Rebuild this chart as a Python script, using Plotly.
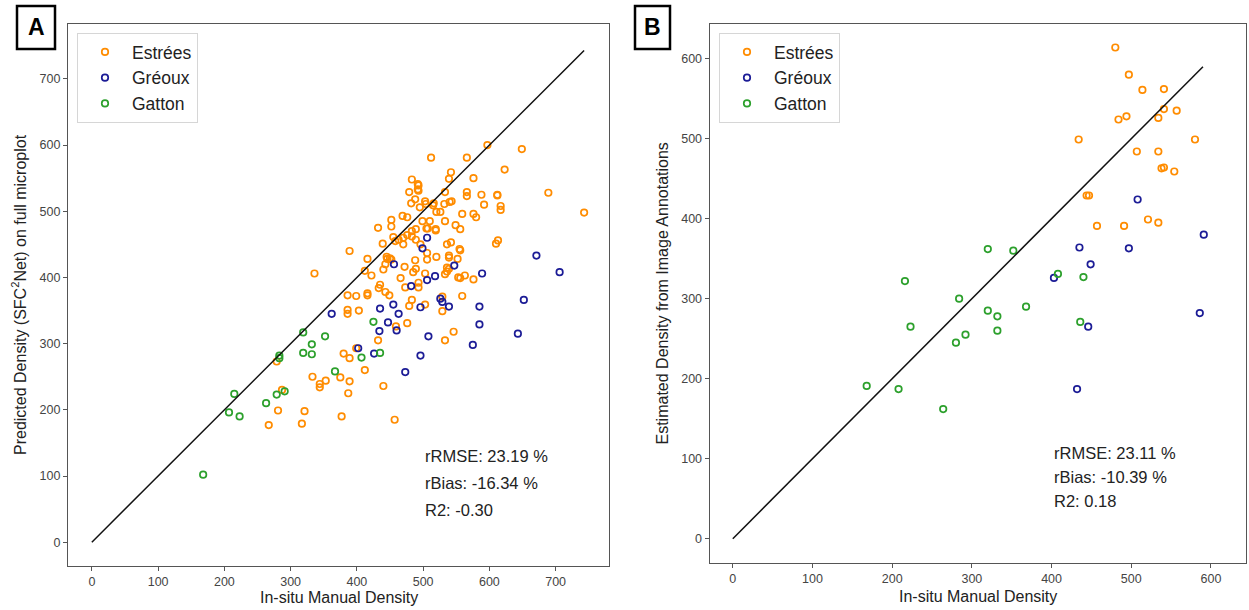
import plotly.graph_objects as go

# ---------------- Panel A data (In-situ manual density vs predicted) ----------------
a_estrees_x = [597, 649, 512, 566, 623, 542, 539, 483, 576, 493, 493, 479, 533, 566, 566, 689,
               588, 612, 612, 482, 488, 495, 504, 516, 532, 540, 543, 592, 617, 617, 520, 526,
               559, 576, 580, 743, 452, 469, 476, 499, 510, 533, 549, 556, 432, 452, 489, 507,
               519, 439, 455, 458, 463, 470, 476, 483, 483, 489, 496, 470, 536, 542, 556, 610,
               613, 389, 416, 446, 452, 488, 506, 506, 520, 539, 539, 552, 440, 443, 472, 485,
               489, 536, 536, 539, 412, 422, 336, 466, 503, 533, 553, 556, 563, 576, 435, 433,
               473, 493, 493, 443, 449, 416, 416, 399, 386, 559, 483, 479, 503, 529, 529, 386,
               386, 403, 459, 476, 432, 546, 533, 279, 380, 389, 333, 344, 344, 353, 375, 412,
               389, 287, 387, 440, 281, 321, 377, 267, 317, 457, 399, 503, 515, 492, 492, 519,
               505, 445, 450, 555]
a_estrees_y = [600, 594, 581, 581, 563, 559, 549, 548, 550, 539, 531, 529, 529, 529, 523, 528,
               525, 525, 524, 512, 518, 506, 511, 512, 511, 514, 515, 510, 508, 502, 499, 499,
               496, 496, 491, 498, 487, 493, 491, 485, 485, 485, 479, 473, 475, 477, 473, 474,
               471, 451, 461, 455, 457, 460, 464, 470, 462, 457, 450, 450, 450, 453, 441, 451,
               456, 440, 428, 428, 427, 426, 437, 427, 431, 433, 430, 428, 412, 420, 416, 408,
               413, 415, 409, 413, 410, 403, 406, 399, 406, 405, 400, 399, 403, 397, 389, 384,
               385, 392, 385, 378, 373, 376, 373, 372, 373, 372, 366, 357, 359, 371, 349, 351,
               345, 350, 326, 331, 305, 318, 305, 273, 285, 278, 250, 239, 234, 244, 249, 260,
               243, 230, 225, 236, 199, 198, 190, 177, 179, 185, 293, 515, 509, 541, 533, 473,
               474, 431, 429, 443]

a_greoux_x = [506, 499, 456, 547, 518, 506, 589, 706, 671, 482, 362, 455, 435, 463, 496, 526,
              529, 539, 585, 652, 447, 585, 434, 460, 508, 643, 575, 402, 426, 496, 473]
a_greoux_y = [460, 444, 420, 418, 402, 396, 406, 408, 433, 387, 345, 359, 353, 345, 355, 368,
              363, 356, 356, 366, 332, 329, 319, 320, 311, 315, 298, 293, 285, 282, 257]

a_gatton_x = [168, 207, 215, 223, 263, 279, 291, 283, 283, 319, 319, 332, 332, 352, 367, 407,
              425, 435]
a_gatton_y = [102, 196, 224, 190, 210, 223, 228, 282, 278, 317, 286, 299, 284, 311, 258, 279,
              333, 286]

# ---------------- Panel B data (In-situ manual density vs image annotations) ----------------
b_estrees_x = [480, 497, 514, 541, 541, 557, 494, 484, 534, 434, 580, 507, 534, 538, 541, 554,
               444, 447, 521, 534, 457, 491]
b_estrees_y = [614, 580, 561, 562, 537, 535, 528, 524, 526, 499, 499, 484, 484, 463, 464, 459,
               429, 429, 399, 395, 391, 391]

b_greoux_x = [508, 591, 435, 497, 449, 403, 446, 586, 432]
b_greoux_y = [424, 380, 364, 363, 343, 326, 265, 282, 187]

b_gatton_x = [320, 352, 216, 408, 440, 284, 368, 320, 332, 223, 436, 332, 292, 280, 168, 208, 264]
b_gatton_y = [362, 360, 322, 331, 327, 300, 290, 285, 278, 265, 271, 260, 255, 245, 191, 187, 162]

# 1:1 reference lines
a_line = [0, 743]
b_line = [0, 590]

# Statistics text
a_stats = ["rRMSE: 23.19 %", "rBias: -16.34 %", "R2: -0.30"]
a_stats_y = [130, 90, 49]
b_stats = ["rRMSE: 23.11 %", "rBias: -10.39 %", "R2: 0.18"]
b_stats_y = [107, 77, 47]

a_ticks = [0, 100, 200, 300, 400, 500, 600, 700]
b_ticks = [0, 100, 200, 300, 400, 500, 600]

site_names = ["Estrées", "Gréoux", "Gatton"]
site_colors = ["#ff8c00", "#1c1c96", "#2ca02c"]

FONT = "Liberation Sans, Arial, sans-serif"
W, H = 1249, 610

fig = go.Figure()


def add_site(x, y, name, color, xa, ya, legend):
    fig.add_trace(go.Scatter(
        x=x, y=y, mode="markers", name=name,
        marker=dict(symbol="circle-open", size=6.5, color=color, line=dict(width=1.7, color=color)),
        xaxis=xa, yaxis=ya, legend=legend, showlegend=True,
    ))


add_site(a_estrees_x, a_estrees_y, site_names[0], site_colors[0], "x", "y", "legend")
add_site(a_greoux_x, a_greoux_y, site_names[1], site_colors[1], "x", "y", "legend")
add_site(a_gatton_x, a_gatton_y, site_names[2], site_colors[2], "x", "y", "legend")
fig.add_trace(go.Scatter(x=a_line, y=a_line, mode="lines", line=dict(color="#111", width=1.5),
                         xaxis="x", yaxis="y", showlegend=False, hoverinfo="skip"))

add_site(b_estrees_x, b_estrees_y, site_names[0], site_colors[0], "x2", "y2", "legend2")
add_site(b_greoux_x, b_greoux_y, site_names[1], site_colors[1], "x2", "y2", "legend2")
add_site(b_gatton_x, b_gatton_y, site_names[2], site_colors[2], "x2", "y2", "legend2")
fig.add_trace(go.Scatter(x=b_line, y=b_line, mode="lines", line=dict(color="#111", width=1.5),
                         xaxis="x2", yaxis="y2", showlegend=False, hoverinfo="skip"))

axis_common = dict(
    showgrid=False, zeroline=False, showline=True, mirror=True,
    linecolor="#555", linewidth=1.3, ticks="outside", ticklen=4, tickcolor="#555",
    tickfont=dict(family=FONT, size=12.5, color="#444"), automargin=False,
)

legend_common = dict(xanchor="left", yanchor="top", bgcolor="white", bordercolor="#d6d6d6",
                     borderwidth=1, itemwidth=44, font=dict(family=FONT, size=17.5, color="#222"))

fig.update_layout(
    width=W, height=H,
    margin=dict(l=0, r=0, t=0, b=0),
    paper_bgcolor="white", plot_bgcolor="white",
    xaxis=dict(domain=[68 / W, 609.3 / W], range=[-36, 781], tickvals=a_ticks, anchor="y", **axis_common),
    yaxis=dict(domain=[(H - 566) / H, (H - 24) / H], range=[-36, 783], tickvals=a_ticks, anchor="x", **axis_common),
    xaxis2=dict(domain=[709.7 / W, 1246 / W], range=[-29, 644], tickvals=b_ticks, anchor="y2", **axis_common),
    yaxis2=dict(domain=[(H - 562.7) / H, (H - 24.3) / H], range=[-30, 643], tickvals=b_ticks, anchor="x2", **axis_common),
    legend=dict(x=77 / W, y=1 - 33 / H, **legend_common),
    legend2=dict(x=719 / W, y=1 - 33 / H, **legend_common),
    showlegend=True,
)

annotations = []
for txt, yy in zip(a_stats, a_stats_y):
    annotations.append(dict(x=500, y=yy, xref="x", yref="y", text=txt, showarrow=False,
                            xanchor="left", yanchor="middle", font=dict(family=FONT, size=16.5, color="#222")))
for txt, yy in zip(b_stats, b_stats_y):
    annotations.append(dict(x=400, y=yy, xref="x2", yref="y2", text=txt, showarrow=False,
                            xanchor="left", yanchor="middle", font=dict(family=FONT, size=16.5, color="#222")))

# axis titles and panel labels
annotations += [
    dict(x=338.5 / W, y=(H - 597) / H, xref="paper", yref="paper", text="In-situ Manual Density",
         showarrow=False, xanchor="center", yanchor="middle", font=dict(family=FONT, size=16, color="#222")),
    dict(x=978 / W, y=(H - 596) / H, xref="paper", yref="paper", text="In-situ Manual Density",
         showarrow=False, xanchor="center", yanchor="middle", font=dict(family=FONT, size=16, color="#222")),
    dict(x=19 / W, y=(H - 295) / H, xref="paper", yref="paper",
         text="Predicted Density (SFC<sup>2</sup>Net) on full microplot", textangle=-90,
         showarrow=False, xanchor="center", yanchor="middle", font=dict(family=FONT, size=16, color="#222")),
    dict(x=662 / W, y=(H - 293.5) / H, xref="paper", yref="paper",
         text="Estimated Density from Image Annotations", textangle=-90,
         showarrow=False, xanchor="center", yanchor="middle", font=dict(family=FONT, size=16, color="#222")),
    dict(x=36 / W, y=(H - 27.5) / H, xref="paper", yref="paper", text="<b>A</b>",
         showarrow=False, xanchor="center", yanchor="middle", font=dict(family=FONT, size=23, color="black")),
    dict(x=652.5 / W, y=(H - 27.5) / H, xref="paper", yref="paper", text="<b>B</b>",
         showarrow=False, xanchor="center", yanchor="middle", font=dict(family=FONT, size=23, color="black")),
]
fig.update_layout(annotations=annotations)

fig.update_layout(shapes=[
    dict(type="rect", xref="paper", yref="paper", x0=17 / W, x1=55 / W, y0=1 - 49 / H, y1=1 - 6 / H,
         line=dict(color="black", width=2.5), fillcolor="rgba(0,0,0,0)"),
    dict(type="rect", xref="paper", yref="paper", x0=635 / W, x1=670 / W, y0=1 - 49 / H, y1=1 - 6 / H,
         line=dict(color="black", width=2.5), fillcolor="rgba(0,0,0,0)"),
])

fig.write_html("out.html", config={"displayModeBar": False},
               post_script="document.body.style.margin='0';document.body.style.overflow='hidden';")
